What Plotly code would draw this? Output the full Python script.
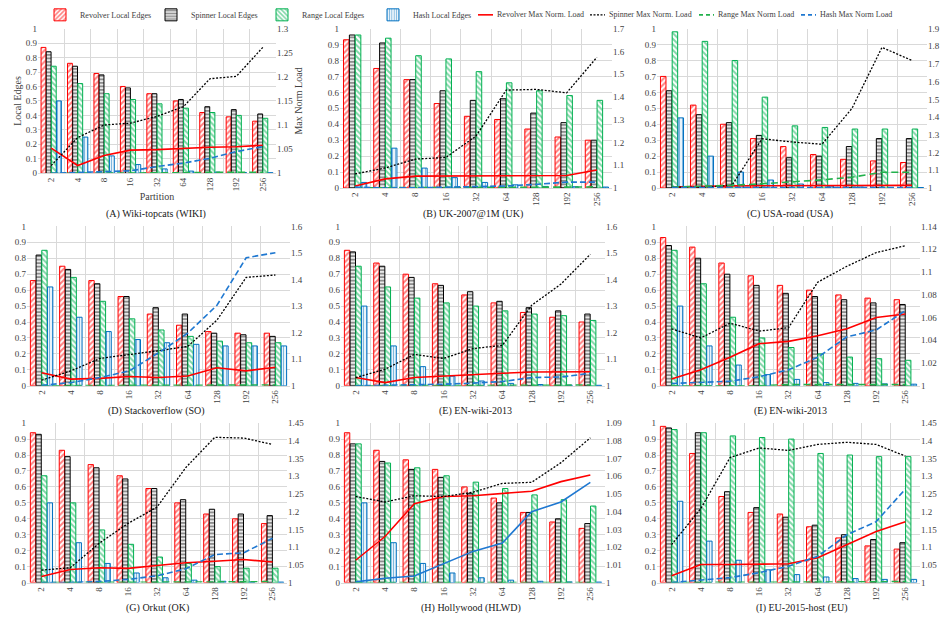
import plotly.graph_objects as go

cats = ["2", "4", "8", "16", "32", "64", "128", "192", "256"]

# ---------------- Panel A : Wiki-topcats ----------------
A_rev = [0.87, 0.76, 0.69, 0.60, 0.55, 0.50, 0.42, 0.39, 0.36]
A_spn = [0.84, 0.74, 0.68, 0.59, 0.55, 0.51, 0.46, 0.44, 0.41]
A_rng = [0.74, 0.62, 0.55, 0.51, 0.48, 0.45, 0.42, 0.40, 0.38]
A_hsh = [0.50, 0.25, 0.12, 0.06, 0.03, 0.015, 0.008, 0.005, 0.004]
A_rev_load = [1.052, 1.016, 1.037, 1.048, 1.049, 1.052, 1.054, 1.055, 1.058]
A_spn_load = [1.016, 1.074, 1.100, 1.104, 1.118, 1.138, 1.196, 1.201, 1.261]
A_rng_load = [1.000, 1.000, 1.001, 1.001, 1.001, 1.001, 1.002, 1.002, 1.002]
A_hsh_load = [1.000, 1.002, 1.003, 1.005, 1.014, 1.021, 1.031, 1.045, 1.055]

# ---------------- Panel B : UK-2007@1M ----------------
B_rev = [0.93, 0.75, 0.68, 0.53, 0.45, 0.43, 0.37, 0.32, 0.30]
B_spn = [0.96, 0.91, 0.68, 0.61, 0.55, 0.56, 0.47, 0.41, 0.30]
B_rng = [0.96, 0.94, 0.83, 0.81, 0.73, 0.66, 0.61, 0.58, 0.55]
B_hsh = [0.035, 0.25, 0.125, 0.065, 0.035, 0.02, 0.01, 0.008, 0.006]
B_rev_load = [1.009, 1.040, 1.052, 1.052, 1.053, 1.053, 1.054, 1.055, 1.079]
B_spn_load = [1.062, 1.088, 1.127, 1.134, 1.228, 1.430, 1.433, 1.418, 1.574]
B_rng_load = [1.001, 1.001, 1.002, 1.002, 1.003, 1.003, 1.004, 1.004, 1.005]
B_hsh_load = [1.004, 1.000, 1.001, 1.004, 1.007, 1.009, 1.016, 1.026, 1.026]

# ---------------- Panel C : USA-road ----------------
C_rev = [0.70, 0.52, 0.40, 0.31, 0.26, 0.21, 0.18, 0.17, 0.16]
C_spn = [0.61, 0.46, 0.41, 0.33, 0.19, 0.20, 0.26, 0.31, 0.31]
C_rng = [0.98, 0.92, 0.80, 0.57, 0.39, 0.38, 0.37, 0.37, 0.37]
C_hsh = [0.44, 0.20, 0.10, 0.05, 0.025, 0.012, 0.006, 0.003, 0.003]
C_rev_load = [1.005, 1.010, 1.012, 1.013, 1.013, 1.014, 1.015, 1.015, 1.015]
C_spn_load = [1.005, 1.005, 1.015, 1.278, 1.260, 1.247, 1.450, 1.794, 1.720]
C_rng_load = [1.005, 1.008, 1.015, 1.024, 1.033, 1.046, 1.061, 1.089, 1.089]
C_hsh_load = [1.002, 1.002, 1.002, 1.002, 1.002, 1.002, 1.002, 1.002, 1.002]

# ---------------- Panel D : Stackoverflow ----------------
D_rev = [0.66, 0.75, 0.66, 0.56, 0.45, 0.38, 0.34, 0.33, 0.33]
D_spn = [0.82, 0.73, 0.64, 0.56, 0.49, 0.45, 0.33, 0.32, 0.31]
D_rng = [0.85, 0.68, 0.53, 0.42, 0.35, 0.31, 0.28, 0.27, 0.27]
D_hsh = [0.62, 0.43, 0.34, 0.29, 0.27, 0.26, 0.25, 0.25, 0.25]
D_rev_load = [1.049, 1.025, 1.028, 1.035, 1.031, 1.037, 1.068, 1.056, 1.070]
D_spn_load = [1.021, 1.056, 1.103, 1.117, 1.132, 1.148, 1.247, 1.408, 1.417]
D_rng_load = [1.000, 1.001, 1.001, 1.001, 1.002, 1.002, 1.002, 1.003, 1.003]
D_hsh_load = [1.002, 1.012, 1.031, 1.056, 1.124, 1.198, 1.303, 1.482, 1.501]

# ---------------- Panel E : EN-wiki-2013 ----------------
E_rev = [0.85, 0.77, 0.70, 0.64, 0.57, 0.52, 0.46, 0.43, 0.40]
E_spn = [0.84, 0.75, 0.68, 0.63, 0.59, 0.53, 0.49, 0.47, 0.45]
E_rng = [0.75, 0.62, 0.55, 0.52, 0.50, 0.47, 0.45, 0.44, 0.41]
E_hsh = [0.50, 0.25, 0.12, 0.06, 0.03, 0.015, 0.008, 0.004, 0.003]
E_rev_load = [1.031, 1.012, 1.031, 1.037, 1.041, 1.047, 1.052, 1.052, 1.053]
E_spn_load = [1.031, 1.062, 1.118, 1.103, 1.140, 1.152, 1.303, 1.383, 1.495]
E_rng_load = [1.000, 1.000, 1.001, 1.001, 1.001, 1.002, 1.002, 1.002, 1.003]
E_hsh_load = [1.000, 1.002, 1.002, 1.006, 1.010, 1.016, 1.031, 1.033, 1.047]

# ---------------- Panel E (second) : EN-wiki-2013 ----------------
F_rev = [0.93, 0.87, 0.77, 0.69, 0.63, 0.60, 0.57, 0.55, 0.54]
F_spn = [0.88, 0.80, 0.70, 0.63, 0.58, 0.56, 0.54, 0.52, 0.51]
F_rng = [0.85, 0.64, 0.43, 0.30, 0.24, 0.20, 0.18, 0.17, 0.16]
F_hsh = [0.50, 0.25, 0.13, 0.07, 0.04, 0.02, 0.015, 0.012, 0.01]
F_rev_load = [1.006, 1.014, 1.025, 1.037, 1.039, 1.044, 1.050, 1.060, 1.063]
F_spn_load = [1.050, 1.042, 1.055, 1.048, 1.051, 1.091, 1.105, 1.117, 1.123]
F_rng_load = [1.000, 1.000, 1.000, 1.000, 1.001, 1.001, 1.001, 1.001, 1.001]
F_hsh_load = [1.002, 1.003, 1.004, 1.008, 1.014, 1.025, 1.043, 1.049, 1.066]

# ---------------- Panel G : Orkut ----------------
G_rev = [0.94, 0.83, 0.74, 0.67, 0.59, 0.50, 0.43, 0.40, 0.37]
G_spn = [0.93, 0.79, 0.72, 0.65, 0.59, 0.52, 0.46, 0.43, 0.42]
G_rng = [0.67, 0.50, 0.33, 0.24, 0.16, 0.12, 0.10, 0.09, 0.09]
G_hsh = [0.50, 0.25, 0.12, 0.06, 0.03, 0.015, 0.008, 0.004, 0.003]
G_rev_load = [1.017, 1.037, 1.042, 1.040, 1.048, 1.056, 1.060, 1.065, 1.058]
G_spn_load = [1.035, 1.042, 1.111, 1.167, 1.213, 1.325, 1.410, 1.408, 1.390]
G_rng_load = [1.000, 1.000, 1.001, 1.001, 1.001, 1.002, 1.002, 1.002, 1.003]
G_hsh_load = [1.000, 1.000, 1.003, 1.009, 1.019, 1.039, 1.079, 1.084, 1.125]

# ---------------- Panel H : Hollywood ----------------
H_rev = [0.94, 0.83, 0.77, 0.71, 0.60, 0.53, 0.44, 0.38, 0.34]
H_spn = [0.87, 0.76, 0.71, 0.66, 0.56, 0.50, 0.44, 0.40, 0.37]
H_rng = [0.87, 0.75, 0.72, 0.67, 0.63, 0.59, 0.55, 0.52, 0.48]
H_hsh = [0.50, 0.25, 0.12, 0.06, 0.03, 0.015, 0.008, 0.004, 0.003]
H_rev_load = [1.0126, 1.026, 1.0445, 1.0486, 1.049, 1.0505, 1.0516, 1.057, 1.0607]
H_spn_load = [1.0486, 1.0455, 1.049, 1.0486, 1.051, 1.056, 1.0566, 1.0677, 1.0817]
H_rng_load = [1.000, 1.000, 1.000, 1.000, 1.000, 1.000, 1.000, 1.000, 1.000]
H_hsh_load = [1.0004, 1.0024, 1.0037, 1.0106, 1.0176, 1.0223, 1.040, 1.0455, 1.0566]

# ---------------- Panel I : EU-2015-host ----------------
I_rev = [0.98, 0.81, 0.54, 0.44, 0.43, 0.35, 0.28, 0.23, 0.21]
I_spn = [0.97, 0.94, 0.57, 0.47, 0.41, 0.36, 0.30, 0.27, 0.25]
I_rng = [0.96, 0.94, 0.92, 0.91, 0.90, 0.81, 0.80, 0.79, 0.79]
I_hsh = [0.51, 0.26, 0.14, 0.08, 0.05, 0.035, 0.025, 0.02, 0.02]
I_rev_load = [1.019, 1.051, 1.051, 1.051, 1.053, 1.070, 1.107, 1.144, 1.172]
I_spn_load = [1.107, 1.209, 1.353, 1.380, 1.373, 1.390, 1.396, 1.390, 1.357]
I_rng_load = [1.000, 1.000, 1.001, 1.001, 1.001, 1.002, 1.002, 1.002, 1.003]
I_hsh_load = [1.000, 1.007, 1.014, 1.028, 1.046, 1.074, 1.135, 1.172, 1.264]

captions = ["(A) Wiki-topcats (WIKI)", "(B) UK-2007@1M (UK)", "(C) USA-road (USA)",
            "(D) Stackoverflow (SO)", "(E) EN-wiki-2013", "(E) EN-wiki-2013",
            "(G) Orkut (OK)", "(H) Hollywood (HLWD)", "(I) EU-2015-host (EU)"]
right_max = [1.3, 1.7, 1.9, 1.6, 1.6, 1.14, 1.45, 1.09, 1.45]
right_step = [0.05, 0.1, 0.1, 0.1, 0.1, 0.02, 0.05, 0.01, 0.05]

panels = [
    (A_rev, A_spn, A_rng, A_hsh, A_rev_load, A_spn_load, A_rng_load, A_hsh_load),
    (B_rev, B_spn, B_rng, B_hsh, B_rev_load, B_spn_load, B_rng_load, B_hsh_load),
    (C_rev, C_spn, C_rng, C_hsh, C_rev_load, C_spn_load, C_rng_load, C_hsh_load),
    (D_rev, D_spn, D_rng, D_hsh, D_rev_load, D_spn_load, D_rng_load, D_hsh_load),
    (E_rev, E_spn, E_rng, E_hsh, E_rev_load, E_spn_load, E_rng_load, E_hsh_load),
    (F_rev, F_spn, F_rng, F_hsh, F_rev_load, F_spn_load, F_rng_load, F_hsh_load),
    (G_rev, G_spn, G_rng, G_hsh, G_rev_load, G_spn_load, G_rng_load, G_hsh_load),
    (H_rev, H_spn, H_rng, H_hsh, H_rev_load, H_spn_load, H_rng_load, H_hsh_load),
    (I_rev, I_spn, I_rng, I_hsh, I_rev_load, I_spn_load, I_rng_load, I_hsh_load),
]

W, H = 949, 622
# plot-area boxes in pixels: (left, right, top, bottom)
boxes = [
    (38, 276, 24, 171), (340, 612, 24, 186), (657, 927, 24, 186),
    (27, 290, 225, 387), (341, 605, 225, 387), (657, 920, 225, 387),
    (27, 287, 425, 587), (341, 605, 425, 587), (657, 920, 425, 587),
]
cap_pos = [(156, 212), (473, 212), (790, 212),
           (156, 413), (475, 413), (790, 413),
           (157, 613), (471, 613), (802, 613)]

RED, GREEN, BLUE, BLACK = "#ff0000", "#00b050", "#0070c0", "#000000"
FONT = "Liberation Serif, Times New Roman, serif"
GRID = "#d9d9d9"
TXT = "#404040"

bar_names = ["Revolver Local Edges", "Spinner Local Edges", "Range Local Edges", "Hash Local Edges"]
bar_styles = [
    dict(line=RED, fg=RED, shape="/", size=4, sol=0.5),
    dict(line=BLACK, fg="#1e1e1e", shape="-", size=3.5, sol=0.6),
    dict(line=GREEN, fg=GREEN, shape="\\", size=4, sol=0.5),
    dict(line=BLUE, fg=BLUE, shape="|", size=3, sol=0.45),
]
line_names = ["Revolver Max Norm. Load", "Spinner Max Norm. Load", "Range Max Norm Load", "Hash Max Norm Load"]
line_styles = [
    dict(color=RED, dash="solid", width=1.6),
    dict(color=BLACK, dash="2px,1.6px", width=1.3),
    dict(color="#22b14c", dash="7px,4px", width=1.6),
    dict(color="#1f78d1", dash="6px,3px", width=1.6),
]

fig = go.Figure()
layout = dict()
annotations = []
shapes = []

for i, data in enumerate(panels):
    k = i + 1
    xa = "x" if k == 1 else f"x{k}"
    ya = "y" if k == 1 else f"y{k}"
    k2 = k + 9
    ya2 = f"y{k2}"
    l, r, t, b = boxes[i]
    xdom = [l / W, r / W]
    ydom = [1 - b / H, 1 - t / H]
    for j in range(4):
        st = bar_styles[j]
        fig.add_trace(go.Bar(
            x=cats, y=data[j], name=bar_names[j], xaxis=xa, yaxis=ya,
            legendgroup=bar_names[j], showlegend=(i == 0),
            marker=dict(color=st["fg"], line=dict(color=st["line"], width=1),
                        pattern=dict(shape=st["shape"], bgcolor="white", fgcolor=st["fg"],
                                     size=st["size"], solidity=st["sol"])),
        ))
    for j in range(4):
        st = dict(line_styles[j])
        if i == 7 and j == 3:
            st["dash"] = "solid"
        fig.add_trace(go.Scatter(
            x=cats, y=data[4 + j], name=line_names[j], xaxis=xa, yaxis=ya2,
            mode="lines", legendgroup=line_names[j], showlegend=False,
            line=st,
        ))
    xkey = "xaxis" if k == 1 else f"xaxis{k}"
    ykey = "yaxis" if k == 1 else f"yaxis{k}"
    layout[xkey] = dict(domain=xdom, anchor=ya, type="category", tickson="boundaries",
                        showgrid=True, gridcolor=GRID, gridwidth=1, tickangle=-90,
                        ticks="", showline=True, linecolor=GRID,
                        tickfont=dict(family=FONT, size=9, color=TXT))
    layout[ykey] = dict(domain=ydom, anchor=xa, range=[0, 1], dtick=0.1, showgrid=True,
                        gridcolor=GRID, zeroline=False, showline=False, ticks="",
                        tickfont=dict(family=FONT, size=9, color=TXT))
    layout[f"yaxis{k2}"] = dict(overlaying=ya, anchor=xa, side="right",
                                range=[1, right_max[i]], dtick=right_step[i], showgrid=False,
                                zeroline=False, ticks="", tickformat="~g",
                                tickfont=dict(family=FONT, size=9, color=TXT))
    cx, cy = cap_pos[i]
    annotations.append(dict(text=captions[i], x=cx / W, y=1 - cy / H, xref="paper", yref="paper",
                            showarrow=False, xanchor="center", yanchor="middle",
                            font=dict(family=FONT, size=10, color="#202020")))

# compact legend keys for the four load lines (legend decoration, not data)
key_x = [478, 590, 699, 801]
key_y = 1 - 10 / H
for j in range(4):
    st = line_styles[j]
    shapes.append(dict(type="line", xref="paper", yref="paper",
                       x0=key_x[j] / W, x1=(key_x[j] + 15) / W, y0=key_y, y1=key_y,
                       line=dict(color=st["color"], width=st["width"],
                                 dash=("solid" if j == 0 else ("2px,1.5px" if j == 1 else "4px,3px")))))
    annotations.append(dict(text=line_names[j], x=(key_x[j] + 17) / W, y=key_y,
                            xref="paper", yref="paper", showarrow=False,
                            xanchor="left", yanchor="middle",
                            font=dict(family=FONT, size=8, color=TXT)))

layout["xaxis"]["title"] = dict(text="Partition", standoff=2, font=dict(family=FONT, size=10, color=TXT))
layout["yaxis"]["title"] = dict(text="Local Edges", standoff=2, font=dict(family=FONT, size=10, color=TXT))
layout["yaxis10"]["title"] = dict(text="Max Norm Load", standoff=2, font=dict(family=FONT, size=10, color=TXT))

fig.update_layout(
    **layout,
    width=W, height=H, margin=dict(l=0, r=0, t=0, b=0),
    paper_bgcolor="white", plot_bgcolor="white",
    barmode="group", bargap=0.22, bargroupgap=0.06,
    annotations=annotations, shapes=shapes,
    legend=dict(orientation="h", x=40 / W, xanchor="left", y=1 - 10 / H, yanchor="middle",
                font=dict(family=FONT, size=8, color=TXT), itemwidth=30,
                entrywidth=66, entrywidthmode="pixels",
                tracegroupgap=0, bgcolor="rgba(0,0,0,0)"),
    font=dict(family=FONT),
)

fig.write_html("out.html")
